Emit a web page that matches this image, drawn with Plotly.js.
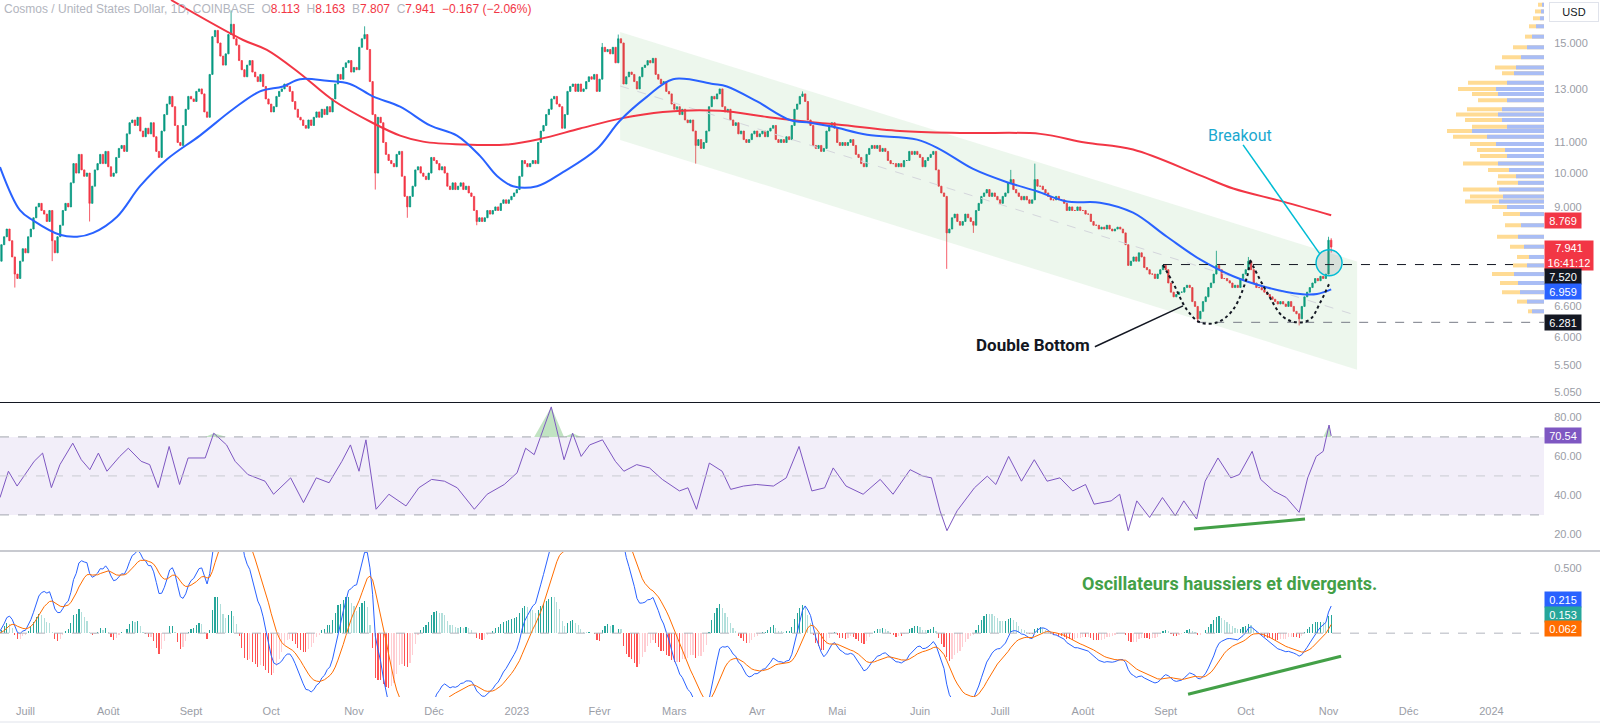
<!DOCTYPE html>
<html><head><meta charset="utf-8">
<script src="https://cdn.plot.ly/plotly-3.0.1.min.js"></script>
<style>html,body{margin:0;padding:0;background:#fff;}#chart{width:1600px;height:723px;}</style>
</head><body><div id="chart"></div>
<script>
// ---------- DATA ----------
const startDate = [2022, 5, 21];          // day index 0 = 21 June 2022, daily candles
const firstOpen = 7.1;
const closes = [
7.6,8.0,8.2,8.4,8.1,7.7,7.3,7.2,7.6,7.9,
7.8,8.2,8.4,8.7,9.0,9.1,8.9,8.8,8.6,8.9,
8.1,7.8,8.2,8.5,8.9,9.1,9.0,9.7,10.3,10.0,
10.6,10.1,9.9,10.0,9.1,9.6,10.1,10.3,10.6,10.3,
10.7,10.2,9.9,10.0,10.5,10.8,10.9,10.7,11.3,11.7,
11.8,11.6,11.9,11.4,11.2,11.5,11.3,11.7,11.2,10.7,
10.5,11.4,12.0,12.4,12.7,12.3,11.6,11.0,10.9,11.6,
12.2,12.7,12.6,12.5,12.9,13.0,12.8,12.1,11.9,13.6,
15.3,15.6,15.0,14.4,14.0,14.5,15.4,15.9,15.2,14.9,
14.2,13.8,13.5,14.0,14.2,13.7,13.5,13.3,13.6,13.1,
12.6,12.4,12.1,12.3,12.7,12.9,13.0,13.2,13.1,12.9,
12.5,12.2,11.9,11.8,11.6,11.5,11.8,11.6,11.9,12.1,
11.9,12.2,12.0,12.3,12.1,12.6,13.2,13.6,13.4,13.9,
14.1,14.2,13.7,13.9,13.8,14.8,15.2,15.4,14.7,13.3,
12.0,10.0,11.9,11.7,11.0,10.6,10.4,10.3,10.2,10.6,
10.7,9.9,9.3,9.0,9.3,9.6,10.1,10.2,10.0,9.9,
9.8,10.0,10.5,10.4,10.3,10.1,10.2,10.0,9.6,9.5,
9.7,9.5,9.6,9.7,9.5,9.6,9.4,9.3,8.9,8.6,
8.7,8.6,8.7,8.9,8.8,8.9,9.0,8.9,9.1,9.2,
9.1,9.2,9.3,9.4,9.5,9.9,10.4,10.3,10.2,10.3,
10.4,10.3,11.0,11.4,11.6,12.0,12.2,12.6,12.7,12.4,
12.3,11.5,12.0,12.9,13.1,13.2,12.9,13.2,12.9,13.0,
13.3,13.5,13.4,13.6,12.9,13.4,14.8,14.6,14.7,14.5,
14.8,14.1,15.2,15.0,13.2,13.5,13.7,13.6,13.3,13.0,
13.5,13.9,14.0,14.2,14.1,14.3,13.6,13.4,13.2,13.3,
12.9,12.8,12.4,12.2,12.3,12.0,12.2,11.8,11.7,11.8,
11.4,10.9,11.1,10.8,11.0,11.4,12.3,12.7,12.6,12.8,
13.0,12.3,12.1,12.2,11.8,11.6,11.7,11.3,11.4,11.1,
11.0,11.1,11.3,11.4,11.2,11.3,11.4,11.2,11.4,11.5,
11.6,11.1,11.0,11.1,11.0,11.2,11.1,11.6,12.2,12.4,
12.7,12.8,12.5,11.8,11.6,10.9,10.8,10.9,10.7,10.8,
11.4,11.6,11.7,11.5,11.0,10.9,11.0,10.9,11.0,11.1,
10.9,10.6,10.5,10.3,10.2,10.6,10.8,10.9,10.8,10.9,
10.7,10.8,10.7,10.4,10.3,10.3,10.2,10.3,10.2,10.4,
10.4,10.7,10.6,10.7,10.6,10.5,10.2,10.4,10.5,10.6,
10.7,10.1,9.6,9.4,9.3,8.3,8.4,8.7,8.8,8.6,
8.5,8.6,8.8,8.7,8.6,8.5,8.9,9.1,9.3,9.4,
9.5,9.3,9.4,9.3,9.2,9.1,9.3,9.4,9.7,9.8,
9.5,9.4,9.3,9.2,9.3,9.2,9.1,9.2,9.8,9.6,
9.6,9.5,9.4,9.3,9.2,9.2,9.3,9.2,9.2,9.1,
8.9,9.0,8.9,8.9,9.0,8.9,8.9,8.8,8.8,8.6,
8.5,8.5,8.4,8.45,8.4,8.5,8.4,8.35,8.4,8.45,
8.4,8.3,8.0,7.5,7.6,7.7,7.6,7.8,7.7,7.45,
7.4,7.3,7.3,7.2,7.3,7.4,7.5,7.4,7.1,6.9,
6.8,6.85,6.9,6.9,7.0,7.05,7.0,6.7,6.6,6.35,
6.5,6.7,6.8,7.0,7.1,7.3,7.5,7.4,7.2,7.2,
7.15,7.1,7.0,7.05,7.0,7.2,7.3,7.4,7.6,7.4,
7.1,7.0,7.0,6.95,6.9,6.85,6.8,6.75,6.7,6.65,
6.7,6.65,6.6,6.7,6.6,6.5,6.45,6.35,6.6,6.8,
6.9,7.0,7.1,7.2,7.15,7.25,7.2,7.3,8.113,7.941];
const wickHighIdx = [87, 137, 226, 232, 301, 379, 388, 456, 468, 498, 499];
const wickHighVal = [16.6, 15.8, 15.0, 15.4, 12.9, 10.1, 10.3, 7.85, 7.7, 8.2, 8.163];
const wickLowIdx  = [0, 6, 20, 34, 141, 153, 179, 261, 355, 365, 449, 487, 499];
const wickLowVal  = [6.7, 7.0, 7.6, 8.6, 9.5, 8.7, 8.5, 10.3, 7.42, 8.3, 6.281, 6.22, 7.807];

const ma200Idx = [64.5,91.5,100.4,112.8,125.2,140.1,150.3,158.9,173.9,190.3,202.7,217.7,232.6,248.7,270.1,287.7,300.1,312.4,337.5,362.6,390,406.8,424.8,449.9,462.3,481,499];
const ma200Val = [17.15,15.14,14.68,13.64,12.55,11.69,11.24,11.03,10.93,10.93,11.12,11.49,11.85,12.1,12.14,11.91,11.76,11.65,11.4,11.33,11.3,11.0,10.76,9.93,9.53,9.15,8.769];
const ma50Idx = [0.45,7.9,12.8,22.9,29.3,35.3,44.3,52.9,63,75.3,87.7,97.8,106.4,112.8,122.9,131.5,140.1,150.3,161.5,171.6,180.2,186.6,192.6,201.6,211.3,224,232.6,242.8,252.5,267.5,272.7,284,296.3,303.8,312.4,325.2,343.9,352.5,364.9,377.6,388.8,400.1,412.4,424.8,437.5,449.9,462.3,475,487.4,493.7,499];
const ma50Val = [10.19,8.91,8.63,8.25,8.2,8.3,8.73,9.6,10.44,11.24,12.2,12.9,13.1,13.4,13.33,13.2,12.7,12.3,11.6,11.24,10.55,9.91,9.6,9.6,10.03,10.78,11.77,12.69,13.4,13.2,13.1,12.5,11.8,11.7,11.55,11.27,11.1,10.77,10.13,9.72,9.45,9.15,9.12,8.84,8.2,7.64,7.25,7.0,6.86,6.86,6.959];

const rsiIdx = [0.45,3.6,6.85,13.25,16.4,19.7,22.9,27.7,30.9,34.1,37.3,40.5,45.3,48.5,53.3,56.5,59.7,63.8,67.7,70.9,77.3,80.5,85.3,88.5,93.3,99.7,102.9,109.3,114.1,118.9,123.7,128.5,131.7,134.9,137.5,141.3,146.1,152.5,157.3,162.1,166.9,171.7,178.1,182.9,189.3,194.1,197.3,200.5,206.9,211.7,214.9,218.1,221.3,226.1,230.9,234.1,238.9,243.7,248.5,254.9,258.1,261.3,266.1,270.9,274.1,278.9,283.7,290.1,294.9,299.7,304.5,309.3,312.5,317.3,323.7,330.1,334.9,341.3,346.1,349.3,352.5,355.1,358.9,365.4,370.2,373.4,378.2,383.0,387.8,392.6,397.4,402.2,407.0,410.2,416.6,419.8,423.0,426.2,431.0,435.8,440.6,443.8,448.6,451.8,456.6,461.4,464.6,469.4,472.6,477.4,482.2,487.0,490.2,493.4,496.0,498.2,499];
const rsiVal = [38.9,52.4,44.8,57.5,61.7,44.0,55.8,66.8,58.3,53.2,61.7,52.4,60.0,64.2,57.5,55.8,44.0,65.1,45.6,59.2,59.2,71.9,65.9,57.5,50.7,47.3,40.6,49.0,36.3,49.0,46.5,57.5,65.9,52.4,68.5,32.9,40.6,34.6,43.9,48.2,47.3,43.9,32.9,40.6,45.6,51.6,64.2,60.9,85.4,58.3,71.9,60.0,65.9,68.5,57.5,52.4,55.8,54.1,48.2,42.3,43.9,32.9,56.6,52.4,43.1,44.8,45.6,44.8,49.0,65.1,42.3,43.9,54.1,44.8,40.6,48.2,40.6,53.2,49.9,49.0,32.1,21.9,32.1,43.9,49.9,45.6,60.0,47.3,58.3,47.3,49.0,42.3,45.6,35.5,37.2,40.6,21.9,37.2,28.7,38.9,29.6,37.2,27.9,47.3,59.2,49.0,50.7,62.6,48.2,42.3,38.9,31.3,49.0,60.0,62.6,76.1,70.54];

// visible-range volume profile (rows by price; total and "up" volume, arbitrary units)
const profPrice = [16.9,16.55,16.2,15.8,15.3,14.8,14.35,13.9,13.65,13.25,13.0,12.8,12.55,12.2,12.0,11.8,11.55,11.4,11.2,10.95,10.75,10.55,10.3,10.1,9.9,9.7,9.5,9.3,9.15,9.0,8.8,8.5,8.2,7.95,7.7,7.5,7.3,7.1,6.9,6.7,6.5];
const profTotal = [6,9,11,15,19,31,42,49,42,76,86,72,66,77,88,79,72,97,91,74,67,64,81,56,46,47,81,74,79,52,41,39,47,34,27,31,52,44,42,27,16];
const profUp    = [2,3,4,8,12,17,23,28,30,37,48,46,37,42,46,42,37,72,57,48,39,37,46,35,28,26,45,41,45,37,24,23,26,20,15,17,30,26,24,17,12];

const monthTicks  = ['2022-07-01','2022-08-01','2022-09-01','2022-10-01','2022-11-01','2022-12-01','2023-01-01','2023-02-01','2023-03-01','2023-04-01','2023-05-01','2023-06-01','2023-07-01','2023-08-01','2023-09-01','2023-10-01','2023-11-01','2023-12-01','2024-01-01'];
const monthLabels = ['Juill','Août','Sept','Oct','Nov','Déc','2023','Févr','Mars','Avr','Mai','Juin','Juill','Août','Sept','Oct','Nov','Déc','2024'];
const priceTicks  = [15, 13, 11, 10, 9, 6.6, 6, 5.5, 5.05];
const priceTickText = ['15.000','13.000','11.000','10.000','9.000','6.600','6.000','5.500','5.050'];

// drawing geometry (annotations: day index / price)
const channel = {i0:232.7, i1:508.7, top0:15.52, top1:7.59, bot0:11.09, bot1:5.42};
const arc1 = {i:[436,439.8,445,449.9,456.3,462.2,467.5,468.6], p:[7.51,7.10,6.53,6.28,6.28,6.53,7.24,7.63]};
const arc2 = {i:[468.6,475,481,486.2,491.1,494.8,498.6], p:[7.63,6.89,6.39,6.28,6.34,6.67,7.13]};
const level1 = {i0:436, p:7.52}, level2 = {i0:448.8, p:6.281};
const breakoutLine = {i:[466.0,494.8], p:[10.92,7.77]};
const circle = {i:498.2, p:7.56};
const dbLine = {i:[410.5,443.5], p:[5.82,6.61]};
const rsiDiv = {i:[447.6,489.2], v:[22.8,27.9]};
const macdDiv = {i:[445.4,502.7], v:[-0.469,-0.177]};

// ---------- BUILD ----------
const T0 = Date.UTC(startDate[0], startDate[1], startDate[2]);
function day(i){ return new Date(T0 + Math.round(i*86400000)).toISOString().slice(0,19).replace('T',' '); }
const dates = closes.map((_, i) => day(i));
const opens = closes.map((c, i) => i === 0 ? firstOpen : closes[i-1]);
const highs = closes.map((c, i) => Math.max(c, opens[i]));
const lows  = closes.map((c, i) => Math.min(c, opens[i]));
wickHighIdx.forEach((k, j) => { highs[k] = Math.max(highs[k], wickHighVal[j]); });
wickLowIdx.forEach((k, j) => { lows[k] = Math.min(lows[k], wickLowVal[j]); });

function ema(arr, n){ const a = 2/(n+1); let e = arr[0]; return arr.map((v, i) => (e = i === 0 ? v : a*v + (1-a)*e)); }
const e12 = ema(closes, 12), e26 = ema(closes, 26);
const macd = e12.map((v, i) => v - e26[i]);
const signal = ema(macd, 9);
const hist = macd.map((v, i) => v - signal[i]);
const histColors = hist.map((h, i) => { const p = i ? hist[i-1] : 0;
  if (h >= 0) return h >= p ? '#26a69a' : '#b2dfdb'; return h < p ? '#ff5252' : '#ffcdd2'; });

const profX = [], profY = [], profXu = [], profYu = [];
profPrice.forEach((p, k) => { profX.push(0, profTotal[k], null); profY.push(p, p, null);
  profXu.push(0, profUp[k], null); profYu.push(p, p, null); });

const H = 697, W = 1544;       // plot area in px
const py = v => 1 - v / H;
const L10 = Math.log10;
const rightEdge = 578.7;        // day index at the right edge of the plot

const traces = [
 {type:'scatter', mode:'lines', x:[day(channel.i0),day(channel.i1),day(channel.i1),day(channel.i0)],
  y:[channel.top0,channel.top1,channel.bot1,channel.bot0], fill:'toself', fillcolor:'rgba(76,175,80,0.10)',
  line:{width:0}, hoverinfo:'skip', xaxis:'x', yaxis:'y'},
 {type:'scatter', mode:'lines', x:[day(channel.i0),day(channel.i1)],
  y:[Math.sqrt(channel.top0*channel.bot0), Math.sqrt(channel.top1*channel.bot1)],
  line:{color:'#d4d6dc', width:1, dash:'dash'}, hoverinfo:'skip', xaxis:'x', yaxis:'y'},
 {type:'scatter', mode:'lines', x:profX, y:profY, line:{color:'#ffdb94', width:4}, hoverinfo:'skip', xaxis:'x2', yaxis:'y'},
 {type:'scatter', mode:'lines', x:profXu, y:profYu, line:{color:'#a9bdf5', width:4}, hoverinfo:'skip', xaxis:'x2', yaxis:'y'},
 {type:'candlestick', x:dates, open:opens, high:highs, low:lows, close:closes,
  increasing:{line:{color:'#089981', width:0.8}, fillcolor:'#089981'},
  decreasing:{line:{color:'#f23645', width:0.8}, fillcolor:'#f23645'},
  whiskerwidth:0, hoverinfo:'skip', xaxis:'x', yaxis:'y'},
 {type:'scatter', mode:'lines', x:ma200Idx.map(day), y:ma200Val, line:{color:'#f23645', width:2, shape:'spline'}, hoverinfo:'skip', xaxis:'x', yaxis:'y'},
 {type:'scatter', mode:'lines', x:ma50Idx.map(day), y:ma50Val, line:{color:'#2962ff', width:2, shape:'spline'}, hoverinfo:'skip', xaxis:'x', yaxis:'y'},
 {type:'scatter', mode:'lines', x:[day(level1.i0), day(rightEdge)], y:[level1.p, level1.p], line:{color:'#131722', width:1, dash:'dash'}, hoverinfo:'skip', xaxis:'x', yaxis:'y'},
 {type:'scatter', mode:'lines', x:[day(level2.i0), day(rightEdge)], y:[level2.p, level2.p], line:{color:'#787b86', width:1, dash:'dash'}, hoverinfo:'skip', xaxis:'x', yaxis:'y'},
 {type:'scatter', mode:'lines', x:arc1.i.map(day), y:arc1.p, line:{color:'#131722', width:2, dash:'dot', shape:'spline'}, hoverinfo:'skip', xaxis:'x', yaxis:'y'},
 {type:'scatter', mode:'lines', x:arc2.i.map(day), y:arc2.p, line:{color:'#131722', width:2, dash:'dot', shape:'spline'}, hoverinfo:'skip', xaxis:'x', yaxis:'y'},
 {type:'scatter', mode:'lines', x:breakoutLine.i.map(day), y:breakoutLine.p, line:{color:'#00bcd4', width:1.5}, hoverinfo:'skip', xaxis:'x', yaxis:'y'},
 {type:'scatter', mode:'lines', x:dbLine.i.map(day), y:dbLine.p, line:{color:'#131722', width:1.5}, hoverinfo:'skip', xaxis:'x', yaxis:'y'},
 {type:'scatter', mode:'markers', x:[day(circle.i)], y:[circle.p], marker:{size:26, color:'rgba(120,123,134,0.18)', line:{color:'#00bcd4', width:1.5}}, hoverinfo:'skip', xaxis:'x', yaxis:'y'},
 // RSI
 {type:'scatter', mode:'lines', x:rsiIdx.map(day), y:rsiVal.map(() => 70), line:{width:0}, hoverinfo:'skip', xaxis:'x', yaxis:'y2'},
 {type:'scatter', mode:'lines', x:rsiIdx.map(day), y:rsiVal.map(v => Math.max(v, 70)), fill:'tonexty', fillcolor:'rgba(76,175,80,0.35)', line:{width:0}, hoverinfo:'skip', xaxis:'x', yaxis:'y2'},
 {type:'scatter', mode:'lines', x:rsiIdx.map(day), y:rsiVal, line:{color:'#7e57c2', width:1}, hoverinfo:'skip', xaxis:'x', yaxis:'y2'},
 {type:'scatter', mode:'lines', x:rsiDiv.i.map(day), y:rsiDiv.v, line:{color:'#43a047', width:3}, hoverinfo:'skip', xaxis:'x', yaxis:'y2'},
 // MACD
 {type:'bar', x:dates, y:hist, marker:{color:histColors, line:{width:0}}, width:0.45*86400000, hoverinfo:'skip', xaxis:'x', yaxis:'y3'},
 {type:'scatter', mode:'lines', x:dates, y:macd, line:{color:'#2962ff', width:1}, hoverinfo:'skip', xaxis:'x', yaxis:'y3'},
 {type:'scatter', mode:'lines', x:dates, y:signal, line:{color:'#ff6d00', width:1}, hoverinfo:'skip', xaxis:'x', yaxis:'y3'},
 {type:'scatter', mode:'lines', x:macdDiv.i.map(day), y:macdDiv.v, line:{color:'#43a047', width:3}, hoverinfo:'skip', xaxis:'x', yaxis:'y3'}
];

const F = 'Liberation Sans, Arial, sans-serif';
const axisFont = {family:F, size:11, color:'#9a9da6'};
const box = (y, yref, text, bg, extra) => Object.assign({xref:'paper', x:1, xanchor:'left', yref:yref, y:y, text:text,
  showarrow:false, bgcolor:bg, font:{family:F, size:11, color:'#ffffff'}, borderpad:1, width:34, height:13}, extra || {});
const hdrRed = s => '<span style="color:#f23645">' + s + '</span>';
const sp = '\u00a0\u00a0';

const layout = {
  width:1600, height:723, margin:{l:0, r:56, t:0, b:26}, paper_bgcolor:'#ffffff', plot_bgcolor:'#ffffff',
  showlegend:false, hovermode:false, bargap:0,
  xaxis:{type:'date', domain:[0,1], anchor:'y3', range:[day(0.45), day(rightEdge)], rangeslider:{visible:false},
    tickvals:monthTicks, ticktext:monthLabels, showgrid:false, zeroline:false, showline:false,
    ticks:'outside', ticklen:4, tickcolor:'rgba(0,0,0,0)', tickfont:axisFont, fixedrange:true},
  xaxis2:{overlaying:'x', anchor:'y', range:[W, 0], visible:false, fixedrange:true},
  yaxis:{type:'log', domain:[1-402/H, 1], anchor:'x', side:'right', range:[L10(4.90), L10(17.15)],
    tickvals:priceTicks, ticktext:priceTickText, showgrid:false, zeroline:false, showline:false,
    ticks:'outside', ticklen:7, tickcolor:'rgba(0,0,0,0)', tickfont:axisFont, fixedrange:true},
  yaxis2:{domain:[1-550/H, 1-403/H], anchor:'x', side:'right', range:[12, 87.4],
    tickvals:[20,40,60,80], ticktext:['20.00','40.00','60.00','80.00'], showgrid:false, zeroline:false,
    ticks:'outside', ticklen:7, tickcolor:'rgba(0,0,0,0)', tickfont:axisFont, fixedrange:true},
  yaxis3:{domain:[0, 1-552/H], anchor:'x', side:'right', range:[-0.49, 0.623],
    tickvals:[0.5], ticktext:['0.500'], showgrid:false, zeroline:false,
    ticks:'outside', ticklen:7, tickcolor:'rgba(0,0,0,0)', tickfont:axisFont, fixedrange:true},
  shapes:[
    {type:'rect', xref:'paper', x0:0, x1:1, yref:'y2', y0:30, y1:70, fillcolor:'rgba(126,87,194,0.10)', line:{width:0}, layer:'below'},
    {type:'line', xref:'paper', x0:0, x1:1, yref:'y2', y0:70, y1:70, line:{color:'#a3a6af', width:1, dash:'dash'}},
    {type:'line', xref:'paper', x0:0, x1:1, yref:'y2', y0:50, y1:50, line:{color:'#c9cbd1', width:1, dash:'dash'}},
    {type:'line', xref:'paper', x0:0, x1:1, yref:'y2', y0:30, y1:30, line:{color:'#a3a6af', width:1, dash:'dash'}},
    {type:'line', xref:'paper', x0:0, x1:1, yref:'y3', y0:0, y1:0, line:{color:'#b2b5be', width:1, dash:'dash'}},
    {type:'line', xref:'paper', x0:0, x1:1600/W, yref:'paper', y0:py(402.5), y1:py(402.5), line:{color:'#131722', width:1}},
    {type:'line', xref:'paper', x0:0, x1:1600/W, yref:'paper', y0:py(551), y1:py(551), line:{color:'#c8cad0', width:2}},
    {type:'line', xref:'paper', x0:0, x1:1600/W, yref:'paper', y0:py(722), y1:py(722), line:{color:'#e0e3eb', width:1}}
  ],
  annotations:[
    {xref:'paper', yref:'paper', x:0, y:py(9), xanchor:'left', yanchor:'middle', xshift:2, showarrow:false,
     font:{family:F, size:12, color:'#b2b5be'},
     text:'Cosmos / United States Dollar, 1D, COINBASE'+sp+'O'+hdrRed('8.113')+sp+'H'+hdrRed('8.163')+sp+'B'+hdrRed('7.807')+sp+'C'+hdrRed('7.941')+sp+hdrRed('\u22120.167 (\u22122.06%)')},
    {xref:'paper', yref:'paper', x:1574/W, y:py(12), xanchor:'center', yanchor:'middle', showarrow:false, text:'USD',
     font:{family:F, size:11, color:'#131722'}, bordercolor:'#e0e3eb', borderwidth:1, borderpad:2, width:44, height:14, bgcolor:'#ffffff'},
    {xref:'x', yref:'y', x:day(464.9), y:L10(11.23), text:'Breakout', showarrow:false, font:{family:'Roboto, '+F, size:16, color:'#1ba8cf'}},
    {xref:'x', yref:'y', x:day(409.4), y:L10(5.85), xanchor:'right', text:'<b>Double Bottom</b>', showarrow:false, font:{family:'Roboto, '+F, size:17, color:'#131722'}},
    {xref:'x', yref:'y3', x:day(461.1), y:0.385, text:'<b>Oscillateurs haussiers et divergents.</b>', showarrow:false, font:{family:'Roboto, '+F, size:18, color:'#43a047'}},
    box(L10(8.769), 'y', '8.769', '#f23645', {yshift:-5}),
    box(L10(7.941), 'y', '7.941<br>16:41:12', '#f23645', {width:46, height:27, yanchor:'top', yshift:7, xanchor:'left'}),
    box(L10(7.52), 'y', '7.520', '#131722', {yshift:-12}),
    box(L10(6.959), 'y', '6.959', '#2962ff', {yshift:-2}),
    box(L10(6.281), 'y', '6.281', '#131722'),
    box(70.54, 'y2', '70.54', '#7e57c2'),
    box(0.262, 'y3', '0.215', '#2962ff'),
    box(0.146, 'y3', '0.153', '#26a69a'),
    box(0.038, 'y3', '0.062', '#ff6d00')
  ]
};
Plotly.newPlot('chart', traces, layout, {displayModeBar:false, staticPlot:true});
</script></body></html>
